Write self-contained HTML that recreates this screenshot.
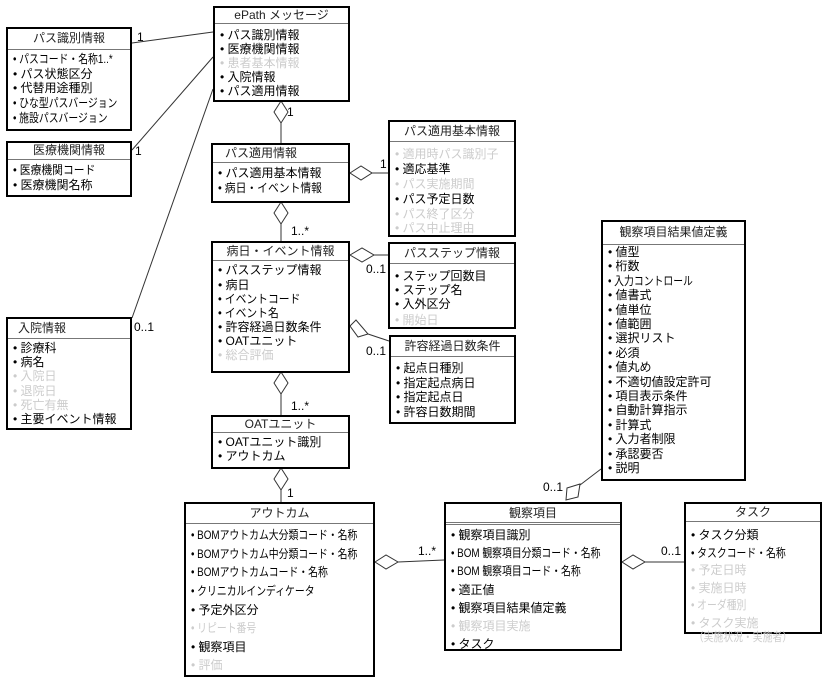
<!DOCTYPE html>
<html><head><meta charset="utf-8"><style>
body{margin:0;width:825px;height:671px;background:#fff;position:relative;overflow:hidden;font-family:"Liberation Sans","Noto Sans CJK JP",sans-serif;color:#000}
.b{position:absolute;border:2px solid #000;background:#fff;box-sizing:border-box}
.t{border-bottom:1px solid #777;text-align:center;font-size:12px;box-sizing:border-box;color:#222}
.i{position:absolute;left:5px;font-size:12px;white-space:nowrap;line-height:14px;transform-origin:0 50%}
.n{transform:scaleX(0.82)}
.m{transform:scaleX(0.9)}
.g{color:#ccc}
.l{position:absolute;font-size:12px}
svg{position:absolute;left:0;top:0}
</style></head><body>
<svg width="825" height="671">
<g stroke="#333" stroke-width="1" fill="#fff">
<line x1="132" y1="43" x2="213" y2="32"/>
<line x1="132" y1="150" x2="213" y2="57"/>
<line x1="132" y1="318" x2="213" y2="89"/>
<line x1="281" y1="123" x2="281" y2="143"/>
<line x1="372" y1="173" x2="388" y2="173"/>
<line x1="281" y1="224" x2="281" y2="241"/>
<line x1="374" y1="255" x2="388" y2="255"/>
<line x1="368" y1="334" x2="389" y2="341"/>
<line x1="281" y1="394" x2="281" y2="415"/>
<line x1="281" y1="490" x2="281" y2="502"/>
<line x1="398" y1="562" x2="444" y2="560"/>
<line x1="645" y1="562" x2="684" y2="562"/>
<line x1="580" y1="485" x2="601" y2="469"/>
<polygon points="281,101 288,112 281,123 274,112"/>
<polygon points="350,173 361,166 372,173 361,180"/>
<polygon points="281,202 288,213 281,224 274,213"/>
<polygon points="350,255 362,248 374,255 362,262"/>
<polygon points="350,326 356,320 368,334 358,337"/>
<polygon points="281,372 288,383 281,394 274,383"/>
<polygon points="281,468 288,479 281,490 274,479"/>
<polygon points="375,562 386,555 398,562 386,569"/>
<polygon points="622,562 633,555 645,562 633,569"/>
<polygon points="567,488 580,484 578,497 566,500"/>
</g></svg>

<div class="b" style="left:213px;top:6px;width:137px;height:96px"><div class="t" style="height:16px;line-height:14px">ePath メッセージ</div>
<div class="i" style="top:20px">• パス識別情報</div><div class="i" style="top:34px">• 医療機関情報</div><div class="i g" style="top:48px">• 患者基本情報</div><div class="i" style="top:62px">• 入院情報</div><div class="i" style="top:76px">• パス適用情報</div></div>

<div class="b" style="left:6px;top:27px;width:126px;height:104px"><div class="t" style="height:21px;line-height:19px">パス識別情報</div>
<div class="i n" style="top:23px">• パスコード・名称1..*</div><div class="i" style="top:38px">• パス状態区分</div><div class="i" style="top:52px">• 代替用途種別</div><div class="i n" style="top:67px">• ひな型パスバージョン</div><div class="i n" style="top:82px">• 施設パスバージョン</div></div>

<div class="b" style="left:6px;top:141px;width:126px;height:56px"><div class="t" style="height:17px;line-height:15px">医療機関情報</div>
<div class="i m" style="top:20px">• 医療機関コード</div><div class="i" style="top:35px">• 医療機関名称</div></div>

<div class="b" style="left:6px;top:317px;width:126px;height:113px"><div class="t" style="height:20px;line-height:18px;text-align:left;padding-left:10px">入院情報</div>
<div class="i" style="top:22px">• 診療科</div><div class="i" style="top:36px">• 病名</div><div class="i g" style="top:50px">• 入院日</div><div class="i g" style="top:65px">• 退院日</div><div class="i g" style="top:79px">• 死亡有無</div><div class="i" style="top:93px">• 主要イベント情報</div></div>

<div class="b" style="left:211px;top:143px;width:139px;height:60px"><div class="t" style="height:18px;line-height:16px;text-align:left;padding-left:12px">パス適用情報</div>
<div class="i" style="top:21px">• パス適用基本情報</div><div class="i m" style="top:36px">• 病日・イベント情報</div></div>

<div class="b" style="left:388px;top:120px;width:128px;height:117px"><div class="t" style="height:20px;line-height:18px">パス適用基本情報</div>
<div class="i g" style="top:25px">• 適用時パス識別子</div><div class="i" style="top:40px">• 適応基準</div><div class="i g" style="top:55px">• パス実施期間</div><div class="i" style="top:70px">• パス予定日数</div><div class="i g" style="top:85px">• パス終了区分</div><div class="i g" style="top:99px">• パス中止理由</div></div>

<div class="b" style="left:211px;top:241px;width:139px;height:132px"><div class="t" style="height:18px;line-height:16px">病日・イベント情報</div>
<div class="i" style="top:20px">• パスステップ情報</div><div class="i" style="top:35px">• 病日</div><div class="i m" style="top:49px">• イベントコード</div><div class="i m" style="top:63px">• イベント名</div><div class="i" style="top:77px">• 許容経過日数条件</div><div class="i" style="top:91px">• OATユニット</div><div class="i g" style="top:105px">• 総合評価</div></div>

<div class="b" style="left:388px;top:242px;width:128px;height:87px"><div class="t" style="height:20px;line-height:18px">パスステップ情報</div>
<div class="i" style="top:25px">• ステップ回数目</div><div class="i" style="top:39px">• ステップ名</div><div class="i" style="top:53px">• 入外区分</div><div class="i g" style="top:69px">• 開始日</div></div>

<div class="b" style="left:389px;top:335px;width:127px;height:89px"><div class="t" style="height:20px;line-height:18px">許容経過日数条件</div>
<div class="i" style="top:24px">• 起点日種別</div><div class="i" style="top:39px">• 指定起点病日</div><div class="i" style="top:53px">• 指定起点日</div><div class="i" style="top:68px">• 許容日数期間</div></div>

<div class="b" style="left:211px;top:415px;width:139px;height:54px"><div class="t" style="height:16px;line-height:14px">OATユニット</div>
<div class="i" style="top:18px">• OATユニット識別</div><div class="i" style="top:32px">• アウトカム</div></div>

<div class="b" style="left:601px;top:220px;width:145px;height:261px"><div class="t" style="height:23px;line-height:20px">観察項目結果値定義</div>
<div class="i" style="top:23px">• 値型</div><div class="i" style="top:37px">• 桁数</div><div class="i n" style="top:52px">• 入力コントロール</div><div class="i" style="top:66px">• 値書式</div><div class="i" style="top:81px">• 値単位</div><div class="i" style="top:95px">• 値範囲</div><div class="i" style="top:109px">• 選択リスト</div><div class="i" style="top:124px">• 必須</div><div class="i" style="top:138px">• 値丸め</div><div class="i" style="top:153px">• 不適切値設定許可</div><div class="i" style="top:167px">• 項目表示条件</div><div class="i" style="top:181px">• 自動計算指示</div><div class="i" style="top:196px">• 計算式</div><div class="i" style="top:210px">• 入力者制限</div><div class="i" style="top:225px">• 承認要否</div><div class="i" style="top:239px">• 説明</div></div>

<div class="b" style="left:184px;top:502px;width:191px;height:175px"><div class="t" style="height:20px;line-height:18px">アウトカム</div>
<div class="i n" style="top:24px">• BOMアウトカム大分類コード・名称</div><div class="i n" style="top:43px">• BOMアウトカム中分類コード・名称</div><div class="i n" style="top:61px">• BOMアウトカムコード・名称</div><div class="i n" style="top:80px">• クリニカルインディケータ</div><div class="i" style="top:99px">• 予定外区分</div><div class="i g n" style="top:117px">• リピート番号</div><div class="i" style="top:136px">• 観察項目</div><div class="i g" style="top:154px">• 評価</div></div>

<div class="b" style="left:444px;top:502px;width:178px;height:149px"><div class="t" style="height:21px;line-height:18px;border-bottom:3px double #777">観察項目</div>
<div class="i" style="top:24px">• 観察項目識別</div><div class="i n" style="top:42px">• BOM 観察項目分類コード・名称</div><div class="i n" style="top:60px">• BOM 観察項目コード・名称</div><div class="i" style="top:79px">• 適正値</div><div class="i" style="top:97px">• 観察項目結果値定義</div><div class="i g" style="top:115px">• 観察項目実施</div><div class="i" style="top:133px">• タスク</div></div>

<div class="b" style="left:684px;top:502px;width:138px;height:132px"><div class="t" style="height:18px;line-height:16px">タスク</div>
<div class="i" style="top:24px">• タスク分類</div><div class="i n" style="top:42px">• タスクコード・名称</div><div class="i g" style="top:59px">• 予定日時</div><div class="i g" style="top:77px">• 実施日時</div><div class="i g n" style="top:94px">• オーダ種別</div><div class="i g" style="top:112px">• タスク実施</div><div class="i g n" style="top:126px">&nbsp;（実施状況・実施者）</div></div>

<div class="l" style="left:137px;top:30px">1</div>
<div class="l" style="left:135px;top:144px">1</div>
<div class="l" style="left:134px;top:320px">0..1</div>
<div class="l" style="left:287px;top:105px">1</div>
<div class="l" style="left:380px;top:157px">1</div>
<div class="l" style="left:291px;top:224px">1..*</div>
<div class="l" style="left:366px;top:262px">0..1</div>
<div class="l" style="left:366px;top:344px">0..1</div>
<div class="l" style="left:291px;top:399px">1..*</div>
<div class="l" style="left:287px;top:486px">1</div>
<div class="l" style="left:418px;top:544px">1..*</div>
<div class="l" style="left:661px;top:544px">0..1</div>
<div class="l" style="left:543px;top:480px">0..1</div>
</body></html>
